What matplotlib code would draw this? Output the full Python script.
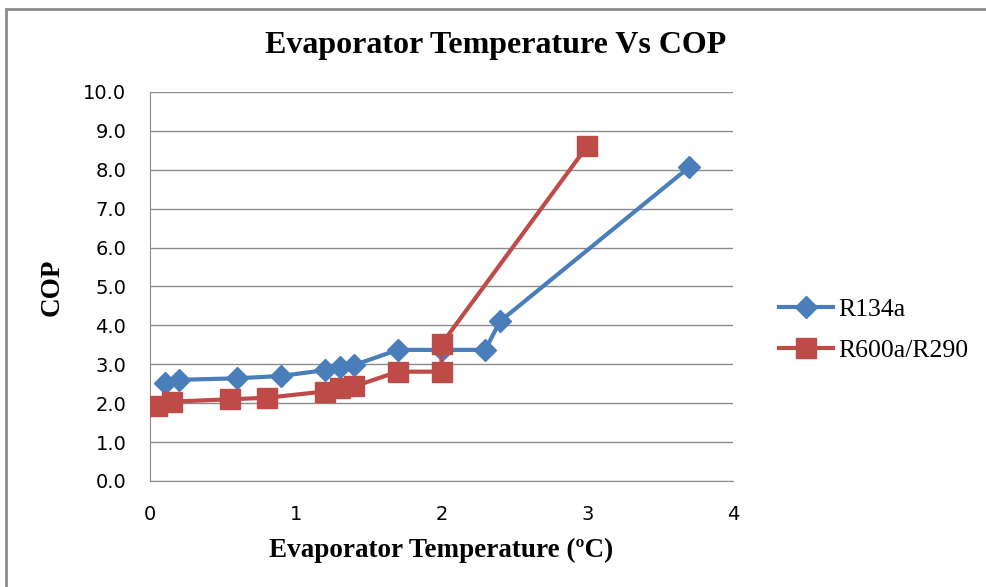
import matplotlib.pyplot as plt
from matplotlib.patches import Rectangle

# data
r134a_t = [0.1, 0.2, 0.6, 0.9, 1.2, 1.3, 1.4, 1.7, 2.0, 2.3, 2.4, 3.7]
r134a_cop = [2.51, 2.60, 2.64, 2.70, 2.85, 2.92, 2.98, 3.37, 3.37, 3.37, 4.10, 8.07]

blend_t = [0.05, 0.15, 0.55, 0.8, 1.2, 1.3, 1.4, 1.7, 2.0, 2.0, 3.0]
blend_cop = [1.93, 2.04, 2.10, 2.14, 2.30, 2.38, 2.43, 2.81, 2.81, 3.52, 8.61]

xticks = [0, 1, 2, 3, 4]
yticks = [0, 1, 2, 3, 4, 5, 6, 7, 8, 9, 10]

blue = "#4A7EBB"
red = "#BE4B48"
grid_c = "#8C8C8C"

fig = plt.figure(figsize=(9.87, 5.87), dpi=100)
ax = fig.add_axes([0.152, 0.1806, 0.5907, 0.6627])

ax.plot(r134a_t, r134a_cop, color=blue, lw=3, marker="D", ms=11,
        markerfacecolor=blue, markeredgecolor=blue, label="R134a", zorder=3)
ax.plot(blend_t, blend_cop, color=red, lw=3, marker="s", ms=14,
        markerfacecolor=red, markeredgecolor=red, label="R600a/R290", zorder=4)

ax.set_xlim(0, 4)
ax.set_ylim(0, 10)
ax.set_xticks(xticks)
ax.set_yticks(yticks)
ax.set_yticklabels(["%.1f" % v for v in yticks])
ax.yaxis.grid(True, color=grid_c, lw=1)
ax.set_axisbelow(True)
for s in ["top", "right"]:
    ax.spines[s].set_visible(False)
ax.spines["left"].set_color(grid_c)
ax.spines["bottom"].set_color(grid_c)
ax.tick_params(length=0, labelsize=14)
ax.tick_params(axis="y", pad=17)
ax.tick_params(axis="x", pad=17)
for lab in ax.get_xticklabels() + ax.get_yticklabels():
    lab.set_fontfamily("DejaVu Sans")

fig.text(0.5025, 0.9097, "Evaporator Temperature Vs COP", ha="center", va="baseline",
         fontsize=23, fontweight="bold", family="Liberation Serif")
fig.text(0.4473, 0.051, "Evaporator Temperature (\u00baC)", ha="center", va="baseline",
         fontsize=19.5, fontweight="bold", family="Liberation Serif")
fig.text(0.053, 0.51, "COP", ha="center", va="center", rotation=90,
         fontsize=19.5, fontweight="bold", family="Liberation Serif")

leg = fig.legend(loc="center left", bbox_to_anchor=(0.766, 0.437), frameon=False,
                 prop={"family": "Liberation Serif", "size": 18.5},
                 handlelength=2.1, handletextpad=0.2, labelspacing=0.7)

# outer chart border
fig.patches.append(Rectangle((0.006, -0.1), 1.2, 1.085, transform=fig.transFigure,
                             fill=False, edgecolor="#8C8C8C", lw=2))

fig.savefig("out.png", dpi=100)
